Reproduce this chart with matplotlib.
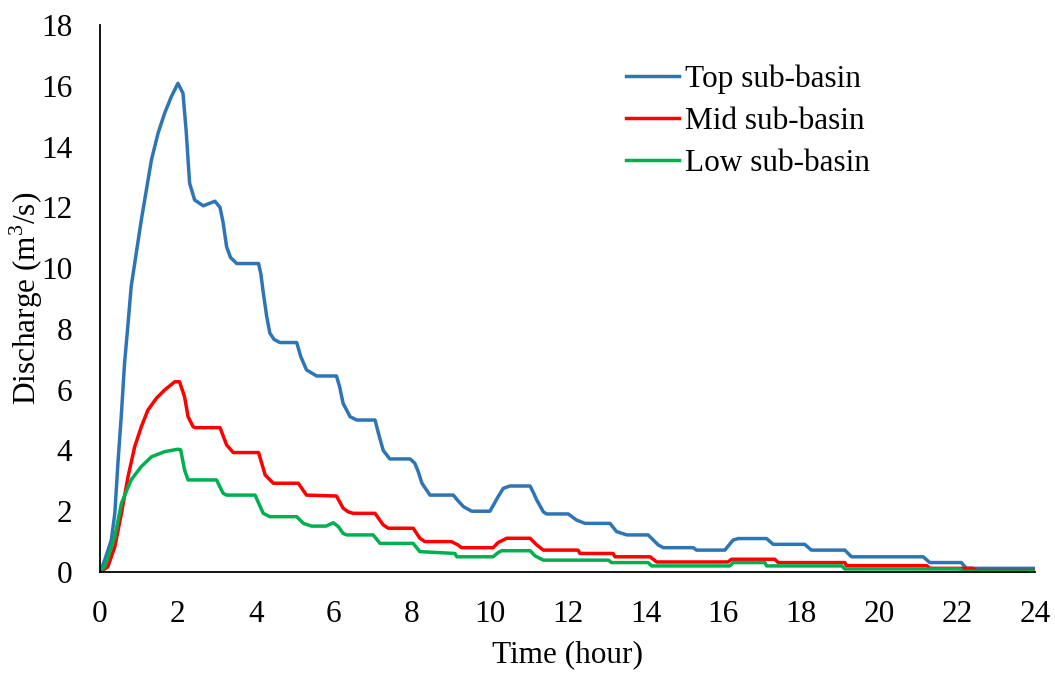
import matplotlib
matplotlib.use('Agg')
import matplotlib.pyplot as plt

# datos (hora, caudal m3/s)
t_top = [0, 0.12, 0.29, 0.38, 0.46, 0.55, 0.63, 0.72, 0.8, 0.93, 1.06, 1.19, 1.32, 1.49, 1.66,
         1.83, 2.0, 2.13, 2.21, 2.3, 2.43, 2.65, 2.95, 3.08, 3.16, 3.25, 3.35,
         3.51, 4.07, 4.13, 4.19, 4.28, 4.36, 4.47, 4.62, 5.05, 5.15, 5.3, 5.56, 6.07, 6.15,
         6.24, 6.42, 6.59, 7.06, 7.15, 7.27, 7.44, 7.96, 8.08, 8.17, 8.26, 8.47, 9.07, 9.2,
         9.33, 9.54, 10.01, 10.22, 10.35, 10.52, 11.04, 11.13, 11.21, 11.38, 11.46, 12.02,
         12.23, 12.45, 13.09, 13.26, 13.52, 14.07, 14.33, 14.46, 15.23, 15.31, 16.04, 16.25,
         16.38, 17.11, 17.28, 18.09, 18.26, 19.12, 19.29, 21.13, 21.3, 22.11, 22.24, 24]
q_top = [0, 0.39, 1.05, 1.93, 3.58, 5.22, 6.87, 8.18, 9.39, 10.49, 11.58, 12.57, 13.56, 14.44, 15.1,
         15.64, 16.08, 15.75, 14.54, 12.79, 12.24, 12.05, 12.2, 12.0, 11.5, 10.7, 10.35,
         10.15, 10.15, 9.8, 9.2, 8.4, 7.86, 7.65, 7.55, 7.55, 7.1, 6.65, 6.45, 6.45, 6.1,
         5.55, 5.11, 5.0, 5.0, 4.55, 4.0, 3.72, 3.72, 3.58, 3.3, 2.93, 2.53, 2.53, 2.33,
         2.15, 2.0, 2.0, 2.48, 2.75, 2.83, 2.83, 2.6, 2.37, 1.98, 1.91, 1.91,
         1.71, 1.6, 1.6, 1.33, 1.22, 1.22, 0.89, 0.8, 0.8, 0.72, 0.72, 1.05,
         1.1, 1.1, 0.91, 0.91, 0.72, 0.72, 0.5, 0.5, 0.31, 0.31, 0.12, 0.12]

t_mid = [0, 0.2, 0.38, 0.55, 0.72, 0.89, 1.06, 1.23, 1.45, 1.66, 1.92, 2.04, 2.17, 2.26, 2.39,
         2.44, 3.08, 3.25, 3.42, 4.07, 4.24, 4.45, 5.09, 5.3, 6.07,
         6.24, 6.37, 6.5, 7.06, 7.27, 7.4, 8.04, 8.21, 8.34, 9.02, 9.19, 9.28, 10.09, 10.22,
         10.44, 11.04, 11.21, 11.38, 12.27, 12.32, 13.17, 13.22, 14.12, 14.29, 16.12, 16.21,
         17.32, 17.41, 19.12, 19.16, 21.22, 21.3, 22.4, 22.5, 24]
q_mid = [0, 0.17, 0.83, 1.93, 3.14, 4.12, 4.78, 5.33, 5.72, 5.99, 6.26, 6.26, 5.77, 5.11, 4.78,
         4.75, 4.75, 4.18, 3.93, 3.93, 3.19, 2.92, 2.92, 2.53, 2.5,
         2.1, 1.98, 1.93, 1.93, 1.55, 1.44, 1.44, 1.11, 1.0, 1.0, 0.89, 0.8, 0.8, 0.97,
         1.11, 1.11, 0.89, 0.72, 0.72, 0.61, 0.61, 0.5, 0.5, 0.33, 0.33, 0.42,
         0.42, 0.31, 0.31, 0.21, 0.21, 0.12, 0.12, 0.05, 0.05]

t_low = [0, 0.13, 0.38, 0.55, 0.8, 1.06, 1.32, 1.66, 2.0, 2.07, 2.17, 2.26, 2.99, 3.16,
         3.25, 3.98, 4.19, 4.36, 5.05, 5.22, 5.43, 5.8, 5.99, 6.12, 6.24, 6.33, 7.01, 7.19,
         8.04, 8.21, 9.11, 9.16, 10.09, 10.22, 10.31, 11.04, 11.17, 11.38, 13.05, 13.13,
         14.07, 14.16, 16.17, 16.25, 17.07, 17.11, 19.04, 19.12, 22.07, 22.16, 24]
q_low = [0, 0.2, 1.16, 2.26, 3.03, 3.47, 3.79, 3.96, 4.04, 4.02, 3.36, 3.03, 3.03, 2.59,
         2.53, 2.53, 1.93, 1.82, 1.82, 1.6, 1.51, 1.51, 1.62, 1.49, 1.27, 1.22, 1.22, 0.94,
         0.94, 0.67, 0.61, 0.5, 0.5, 0.64, 0.7, 0.7, 0.53, 0.39, 0.39, 0.31,
         0.31, 0.2, 0.2, 0.31, 0.31, 0.2, 0.2, 0.1, 0.1, 0.02, 0.02]

plt.rcParams['font.family'] = ['Liberation Serif', 'DejaVu Serif']
plt.rcParams['mathtext.fontset'] = 'custom'
plt.rcParams['mathtext.rm'] = 'Liberation Serif'

fs = 22.5
fig = plt.figure(figsize=(10.55, 6.75), dpi=100)
ax = fig.add_axes([0.0948, 0.1526, 0.8862, 0.8104])

lw = 2.5
ax.plot(t_top, q_top, color='#2E75B6', lw=lw, label='Top sub-basin', solid_joinstyle='round')
ax.plot(t_mid, q_mid, color='#FF0000', lw=lw, label='Mid sub-basin', solid_joinstyle='round')
ax.plot(t_low, q_low, color='#00B050', lw=lw, label='Low sub-basin', solid_joinstyle='round')

ax.set_xlim(0, 24)
ax.set_ylim(0, 18)
ax.set_xticks(range(0, 25, 2))
ax.set_yticks(range(0, 19, 2))
ax.tick_params(length=0, labelsize=fs)
ax.tick_params(axis='x', pad=20)
ax.tick_params(axis='y', pad=20)

for s in ['top', 'right']:
    ax.spines[s].set_visible(False)
for s in ['left', 'bottom']:
    ax.spines[s].set_linewidth(1.3)
    ax.spines[s].set_color('black')

ax.set_xlabel('Time (hour)', fontsize=fs)
ax.set_ylabel(r'Discharge (m$^{\mathregular{3}}$/s)', fontsize=fs)
ax.xaxis.set_label_coords(0.5, -0.125)
ax.yaxis.set_label_coords(-0.059, 0.5)

ax.legend(loc='upper left', bbox_to_anchor=(0.532, 0.98), frameon=False, fontsize=fs,
          handlelength=1.7, handletextpad=0.2, labelspacing=0.42)

fig.savefig('out.png', dpi=100)
